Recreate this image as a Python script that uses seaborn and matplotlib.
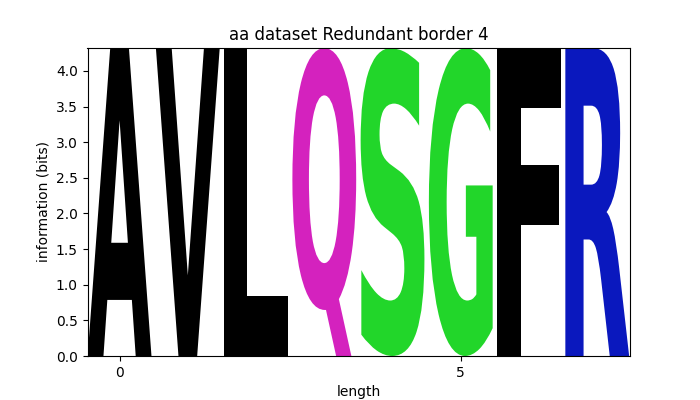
import numpy as np
import matplotlib
matplotlib.use("Agg")
import matplotlib.pyplot as plt
import seaborn as sns
from matplotlib.textpath import TextPath
from matplotlib.patches import PathPatch
from matplotlib.font_manager import FontProperties
from matplotlib.transforms import Affine2D

# sequence logo data: one letter per position, its information (bits)
positions = [0, 1, 2, 3, 4, 5, 6, 7]
letters = ['A', 'V', 'L', 'Q', 'S', 'G', 'F', 'R']
bits = [4.32, 4.32, 4.32, 4.32, 4.32, 4.32, 4.32, 4.32]

# residue colours
colour_map = {
    'A': '#000000', 'V': '#000000', 'L': '#000000', 'F': '#000000',
    'Q': '#D422BE', 'S': '#22D62A', 'G': '#22D62A', 'R': '#0A18BE',
}
palette = sns.color_palette([colour_map[l] for l in letters])

fig, ax = plt.subplots(figsize=(7, 4), dpi=100)

fp = FontProperties(family='DejaVu Sans', weight='bold')
letter_width = 0.935

for x, letter, h, col in zip(positions, letters, bits, palette):
    path = TextPath((0, 0), letter, size=1, prop=fp)
    ext = path.get_extents()
    tr = (Affine2D()
          .translate(-ext.x0, -ext.y0)
          .scale(letter_width / ext.width, h / ext.height)
          .translate(x - letter_width / 2, 0))
    ax.add_patch(PathPatch(tr.transform_path(path), facecolor=col,
                           edgecolor='none'))

ax.set_xlim(-0.47, 7.48)
ax.set_ylim(0, np.log2(20))
ax.set_xticks([0, 5])
ax.set_yticks(np.arange(0, 4.01, 0.5))
ax.set_xlabel('length')
ax.set_ylabel('information (bits)')
ax.set_title('aa dataset Redundant border 4')

plt.savefig('out.png', dpi=100)
